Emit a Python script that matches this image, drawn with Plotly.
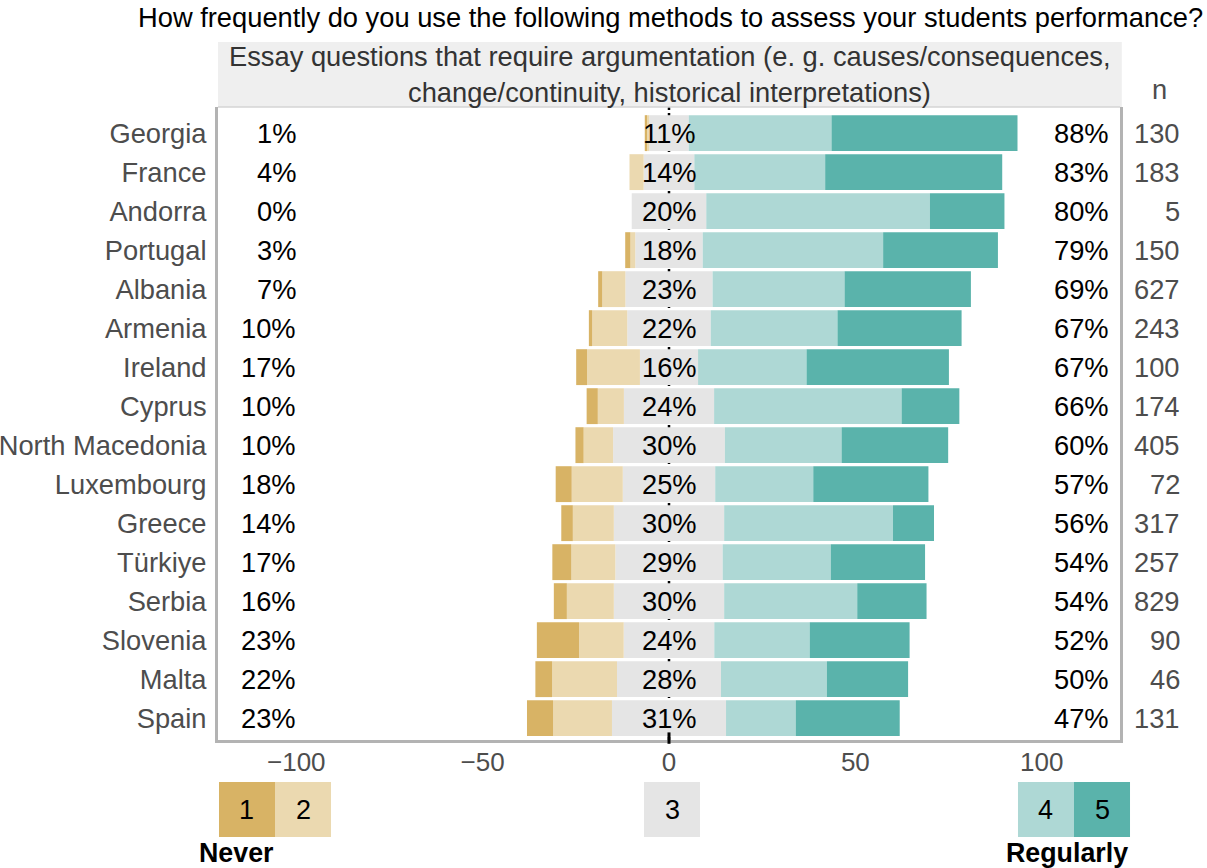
import plotly.graph_objects as go

countries = ["Georgia", "France", "Andorra", "Portugal", "Albania", "Armenia", "Ireland",
             "Cyprus", "North Macedonia", "Luxembourg", "Greece", "Türkiye", "Serbia",
             "Slovenia", "Malta", "Spain"]
n_resp = [130, 183, 5, 150, 627, 243, 100, 174, 405, 72, 317, 257, 829, 90, 46, 131]

# shares (%) per answer category 1 (never) ... 5 (regularly)
cat1 = [0.4, 0.0, 0.0, 1.4, 1.1, 0.9, 2.9, 3.0, 2.2, 4.3, 3.1, 5.1, 3.5, 11.3, 4.5, 7.0]
cat2 = [0.8, 3.8, 0.0, 1.3, 6.2, 9.4, 14.2, 7.0, 7.9, 13.7, 11.0, 11.8, 12.6, 12.0, 17.4, 15.8]
cat3 = [10.6, 13.6, 20.0, 18.1, 23.4, 22.4, 15.6, 24.2, 30.0, 24.8, 29.6, 28.8, 29.6, 24.3, 27.9, 30.6]
cat4 = [38.3, 35.1, 60.0, 48.4, 35.4, 34.0, 29.1, 50.3, 31.3, 26.3, 45.3, 29.0, 35.7, 25.6, 28.4, 18.7]
cat5 = [49.9, 47.5, 20.0, 30.8, 33.9, 33.3, 38.2, 15.5, 28.6, 30.9, 11.0, 25.3, 18.6, 26.8, 21.8, 27.9]

x_ticks = [-100, -50, 0, 50, 100]
legend_labels = ["1", "2", "3", "4", "5"]

title_text = "How frequently do you use the following methods to assess your students performance?"
strip_line1 = "Essay questions that require argumentation (e. g. causes/consequences,"
strip_line2 = "change/continuity, historical interpretations)"

COLORS = ["#d8b365", "#ebd9b0", "#e5e5e5", "#aed8d5", "#5ab3ab"]
FONT = "Liberation Sans, Arial, sans-serif"
FS = 27.3
GREY_TXT = "#4d4d4d"


def pct(v):
    return f"{int(v + 0.5)}%"


fig = go.Figure()
BW = 0.92
neg_sets = [([-v / 2 for v in cat3], COLORS[2]),
            ([-v for v in cat2], COLORS[1]),
            ([-v for v in cat1], COLORS[0])]
pos_sets = [([v / 2 for v in cat3], COLORS[2]),
            (cat4, COLORS[3]),
            (cat5, COLORS[4])]
for vals, col in neg_sets + pos_sets:
    fig.add_trace(go.Bar(y=countries, x=vals, orientation="h", width=BW,
                         marker=dict(color=col, line=dict(width=0)),
                         showlegend=False, hoverinfo="skip"))

ann = []
for i, c in enumerate(countries):
    ann.append(dict(x=-99.5, y=c, xref="x", yref="y", text=pct(cat1[i] + cat2[i]),
                    xanchor="right", showarrow=False, font=dict(size=FS, color="black")))
    ann.append(dict(x=0, y=c, xref="x", yref="y", text=pct(cat3[i]),
                    xanchor="center", showarrow=False, font=dict(size=FS, color="black")))
    ann.append(dict(x=118.5, y=c, xref="x", yref="y", text=pct(cat4[i] + cat5[i]),
                    xanchor="right", showarrow=False, font=dict(size=FS, color="black")))
    ann.append(dict(x=1.0685, y=c, xref="paper", yref="y", text=str(n_resp[i]),
                    xanchor="right", showarrow=False, font=dict(size=FS, color=GREY_TXT)))

ann.append(dict(x=1.0443, y=1.028, xref="paper", yref="paper", text="n", showarrow=False,
                xanchor="center", yanchor="middle", font=dict(size=FS, color=GREY_TXT)))
ann.append(dict(x=1.094, y=1.1685, xref="paper", yref="paper", text=title_text, showarrow=False,
                xanchor="right", yanchor="top", font=dict(size=FS, color="black")))
ann.append(dict(x=0.501, y=1.079, xref="paper", yref="paper", text=strip_line1, showarrow=False,
                xanchor="center", yanchor="middle", font=dict(size=FS, color="#333333")))
ann.append(dict(x=0.501, y=1.023, xref="paper", yref="paper", text=strip_line2, showarrow=False,
                xanchor="center", yanchor="middle", font=dict(size=FS, color="#333333")))

shapes = [
    dict(type="rect", xref="paper", yref="paper", x0=0, x1=1.002, y0=1.0, y1=1.1027,
         fillcolor="#efefef", line=dict(width=0), layer="below"),
    dict(type="line", xref="x", yref="paper", x0=0, x1=0, y0=0, y1=1,
         line=dict(color="black", width=2.5, dash="dot"), layer="below"),
    dict(type="line", xref="paper", yref="paper", x0=0, x1=1, y0=1, y1=1,
         line=dict(color="#d4d4d4", width=1.5), layer="above"),
    dict(type="line", xref="x", yref="paper", x0=0, x1=0, y0=-0.006, y1=0.012,
         line=dict(color="black", width=3), layer="above"),
]

# legend boxes below the axis
box_x = [(0.0011, 0.0632), (0.0632, 0.1253), (0.4723, 0.5344), (0.8869, 0.949), (0.949, 1.0111)]
for (x0, x1), col, lab in zip(box_x, COLORS, legend_labels):
    shapes.append(dict(type="rect", xref="paper", yref="paper", x0=x0, x1=x1,
                       y0=-0.1532, y1=-0.0664, fillcolor=col, line=dict(width=0)))
    ann.append(dict(x=(x0 + x1) / 2, y=-0.1098, xref="paper", yref="paper", text=lab,
                    showarrow=False, xanchor="center", yanchor="middle",
                    font=dict(size=27, color="black")))
ann.append(dict(x=0.0205, y=-0.178, xref="paper", yref="paper", text="<b>Never</b>",
                showarrow=False, xanchor="center", yanchor="middle",
                font=dict(size=26.8, color="black")))
ann.append(dict(x=0.9412, y=-0.178, xref="paper", yref="paper", text="<b>Regularly</b>",
                showarrow=False, xanchor="center", yanchor="middle",
                font=dict(size=26.8, color="black")))

fig.update_layout(
    barmode="relative",
    width=1207, height=868,
    margin=dict(l=218, r=87, t=107, b=128, pad=0, autoexpand=False),
    paper_bgcolor="white", plot_bgcolor="white",
    font=dict(family=FONT, size=FS, color=GREY_TXT),
    annotations=ann, shapes=shapes,
    xaxis=dict(range=[-121, 121], tickvals=x_ticks, showgrid=False, zeroline=False,
               automargin=False,
               showline=True, linecolor="#b3b3b3", linewidth=3,
               ticks="outside", tickcolor="white", ticklen=3, tickwidth=1.5,
               ticklabelstandoff=-6,
               tickfont=dict(size=26, color=GREY_TXT)),
    yaxis=dict(categoryorder="array", categoryarray=countries[::-1],
               range=[-0.56, 15.67], showgrid=False, zeroline=False,
               automargin=False,
               showline=True, mirror=True, linecolor="#b3b3b3", linewidth=3,
               ticks="outside", tickcolor="white", ticklen=3, tickwidth=1.5,
               tickfont=dict(size=FS, color=GREY_TXT)),
)

fig.write_html("out.html", config={"displayModeBar": False},
               post_script="document.body.style.margin='0';document.body.style.overflow='hidden';")
